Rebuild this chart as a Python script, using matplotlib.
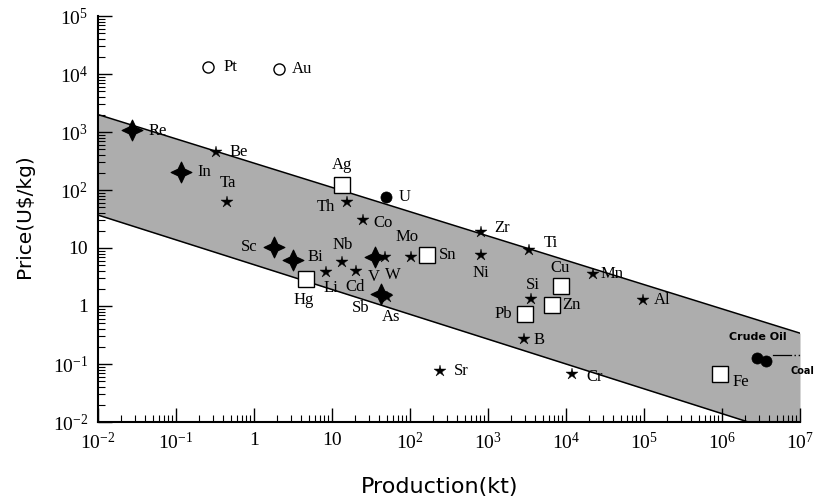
import matplotlib
matplotlib.use("Agg")
import matplotlib.pyplot as plt
from matplotlib.path import Path
from matplotlib.ticker import LogLocator, NullFormatter
import numpy as np

plt.rcParams["mathtext.fontset"] = "custom"
plt.rcParams["mathtext.rm"] = "Liberation Serif"
plt.rcParams["mathtext.it"] = "Liberation Serif:italic"

# data: production (kt) vs price (US$/kg)
elements = ["Pt", "Au", "Re", "Be", "In", "Ta", "Sc", "Bi", "Hg", "Li", "Nb", "Cd",
            "V", "W", "Sb", "As", "Mo", "Sn", "Ni", "Zr", "Ti", "Cu", "Si", "Zn",
            "Pb", "B", "Sr", "Cr", "Mn", "Al", "Fe", "U", "Ag", "Th", "Co",
            "Crude Oil", "Coal"]
production = [0.26, 2.1, 0.027, 0.33, 0.115, 0.45, 1.8, 3.2, 4.6, 8.3, 13.5, 20.4,
              36, 48, 42, 50, 102, 165, 820, 820, 3400, 8700, 3600, 6600,
              2950, 2900, 240, 12000, 22000, 96000, 930000, 49, 13.5, 15.6, 25,
              2.8e6, 3.7e6]
price = [13000, 12000, 1070, 460, 205, 62, 10.4, 6.2, 2.9, 3.9, 5.7, 4.0,
         7.0, 7.0, 1.6, 1.43, 7.0, 7.6, 7.6, 19, 9.3, 2.2, 1.32, 1.04,
         0.72, 0.27, 0.076, 0.066, 3.5, 1.27, 0.068, 76, 123, 62, 30,
         0.127, 0.112]
kind = ["open", "open", "diamond", "star", "diamond", "star", "diamond", "diamond",
        "square", "star", "star", "star", "diamond", "star", "diamond", "star",
        "star", "square", "star", "star", "star", "square", "star", "square",
        "square", "star", "star", "star", "star", "star", "square", "dot", "square",
        "star", "star", "dot", "dot"]

# shaded band edges
band_x = [1e-2, 1e7]
band_upper = [2000, 0.34]
band_lower = [37, 0.0052]

x_ticks = [1e-2, 1e-1, 1, 10, 1e2, 1e3, 1e4, 1e5, 1e6, 1e7]
x_labels = [r"$\mathregular{10^{-2}}$", r"$\mathregular{10^{-1}}$", "1", "10",
            r"$\mathregular{10^{2}}$", r"$\mathregular{10^{3}}$", r"$\mathregular{10^{4}}$",
            r"$\mathregular{10^{5}}$", r"$\mathregular{10^{6}}$", r"$\mathregular{10^{7}}$"]
y_ticks = [1e-2, 1e-1, 1, 10, 1e2, 1e3, 1e4, 1e5]
y_labels = [r"$\mathregular{10^{-2}}$", r"$\mathregular{10^{-1}}$", "1", "10",
            r"$\mathregular{10^{2}}$", r"$\mathregular{10^{3}}$", r"$\mathregular{10^{4}}$",
            r"$\mathregular{10^{5}}$"]

# label placement (pixel offsets from marker, y down) and alignment
label_pos = {
    "Pt": (15, 0, "left"), "Au": (13, 0, "left"), "Re": (17, 1, "left"),
    "Be": (13, 0, "left"), "In": (17, 0, "left"), "Ta": (1, -19, "center"),
    "Sc": (-16, 0, "right"), "Bi": (14, -3, "left"), "Hg": (-2, 21, "center"),
    "Li": (5, 16, "center"), "Nb": (1, -17, "center"), "Cd": (-1, 16, "center"),
    "V": (-2, 20, "center"), "W": (8, 18, "center"), "Sb": (-20, 14, "center"),
    "As": (5, 20, "center"), "Mo": (-4, -20, "center"), "Sn": (12, 0, "left"),
    "Ni": (0, 18, "center"), "Zr": (13, -4, "left"), "Ti": (14, -7, "left"),
    "Cu": (-1, -18, "center"), "Si": (1, -14, "center"), "Zn": (10, 0, "left"),
    "Pb": (-13, 0, "right"), "B": (9, 1, "left"), "Sr": (14, 0, "left"),
    "Cr": (14, 3, "left"), "Mn": (8, 0, "left"), "Al": (11, 0, "left"),
    "Fe": (13, 8, "left"), "U": (13, 0, "left"), "Ag": (0, -20, "center"),
    "Th": (-12, 5, "right"), "Co": (10, 3, "left"),
    "Crude Oil": (1, -21, "center"), "Coal": (36, 10, "center"),
}

# fat four-pointed star used for the by-product metals
c = 0.32
diamond = Path([(0, 1), (c, c), (1, 0), (c, -c), (0, -1), (-c, -c), (-1, 0), (-c, c), (0, 1)],
               [Path.MOVETO] + [Path.LINETO] * 7 + [Path.CLOSEPOLY])

marker_style = {
    "open": dict(marker="o", ms=8, mfc="white", mec="black", mew=1.0),
    "dot": dict(marker="o", ms=8, mfc="black", mec="black", mew=0.5),
    "diamond": dict(marker=diamond, ms=15, mfc="black", mec="black", mew=0.8),
    "star": dict(marker="*", ms=9, mfc="black", mec="black", mew=0.3),
    "square": dict(marker="s", ms=11.5, mfc="white", mec="black", mew=1.0),
}

fig = plt.figure(figsize=(8.19, 5.01), dpi=100)
ax = fig.add_axes([98 / 819, 79 / 501, 702 / 819, 406 / 501])
ax.set_xscale("log")
ax.set_yscale("log")

ax.fill_between(band_x, band_lower, band_upper, color="#adadad", lw=0, zorder=1)
ax.plot(band_x, band_upper, color="black", lw=1.1, zorder=2)
ax.plot(band_x, band_lower, color="black", lw=1.1, zorder=2)

for name, x, y, k in zip(elements, production, price, kind):
    ax.plot(x, y, linestyle="none", zorder=4, **marker_style[k])
    dx, dy, ha = label_pos[name]
    if name in ("Crude Oil", "Coal"):
        fs, fam, fw = (8 if name == "Crude Oil" else 7), "DejaVu Sans", "bold"
    else:
        fs, fam, fw = 12, "Liberation Serif", "normal"
    ax.annotate(name, xy=(x, y), xytext=(dx, -dy), textcoords="offset pixels",
                ha=ha, va="center", fontsize=fs, family=fam, fontweight=fw,
                zorder=5, annotation_clip=False)

# leader line next to Coal
cx, cy = production[-2], price[-2]
ax.plot([cx * 1.6, cx * 2.7], [cy * 1.11] * 2, color="black", lw=0.9, zorder=3, clip_on=False)
ax.plot([cx * 3.0, cx * 3.6], [cy * 1.11] * 2, color="black", lw=1.0, ls=(0, (1, 2)),
        zorder=3, clip_on=False)

ax.set_xlim(1e-2, 1e7)
ax.set_ylim(1e-2, 1e5)
ax.set_xticks(x_ticks, x_labels)
ax.set_yticks(y_ticks, y_labels)
ax.xaxis.set_minor_locator(LogLocator(base=10, subs=np.arange(2, 10), numticks=30))
ax.yaxis.set_minor_locator(LogLocator(base=10, subs=np.arange(2, 10), numticks=30))
ax.xaxis.set_minor_formatter(NullFormatter())
ax.yaxis.set_minor_formatter(NullFormatter())

ax.tick_params(which="major", direction="in", length=10, width=1.0, labelsize=14, pad=7)
ax.tick_params(which="minor", direction="in", length=5, width=0.8)
for lab in ax.get_xticklabels() + ax.get_yticklabels():
    lab.set_family("Liberation Serif")

ax.spines["top"].set_visible(False)
ax.spines["right"].set_visible(False)
ax.spines["left"].set_linewidth(1.5)
ax.spines["bottom"].set_linewidth(1.5)

fig.text(440 / 819, 1 - 487 / 501, "Production(kt)", ha="center", va="center",
         fontsize=16, family="DejaVu Sans")
fig.text(25 / 819, 1 - 216 / 501, "Price(U$/kg)", ha="center", va="center",
         rotation=90, fontsize=14.5, family="DejaVu Sans")

fig.savefig("out.png", dpi=100)
